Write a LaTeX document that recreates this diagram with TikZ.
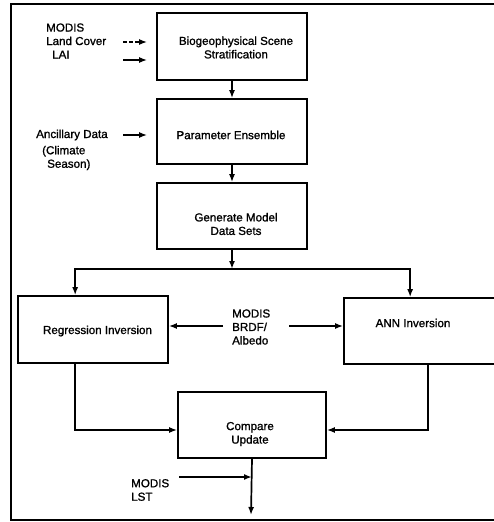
\documentclass[tikz,border=0pt]{standalone}
\usepackage{fontspec}
\setmainfont{Liberation Sans}[FakeBold=1.2]
\usetikzlibrary{arrows.meta}
\begin{document}
\begin{tikzpicture}[x=1pt,y=-1pt,
  font=\fontsize{11.6pt}{13.5pt}\selectfont,
  box/.style={draw,line width=1.7pt,inner sep=0pt,minimum width=150pt,minimum height=66pt},
  lbl/.style={inner sep=0pt,align=center},
  arr/.style={line width=1.7pt,-{Latex[length=8pt,width=6pt]}},
  ln/.style={line width=1.7pt}]
\clip (0,0) rectangle (494,522);
\useasboundingbox (0,0) rectangle (494,522);
% frame (open at right)
\draw[ln] (500,4) -- (11,4) -- (11,520) -- (500,520);
% boxes
\node[box,minimum height=67pt] (bio) at (232,46.5) {};
\node[lbl] (biot) at (236,47.5) {Biogeophysical Scene\\Stratification};
\node[box,minimum height=65pt] (par) at (232,131.5) {};
\node[lbl] (part) at (231,135) {Parameter Ensemble};
\node[box] (gen) at (232,216) {};
\node[lbl] (gent) at (236,224) {Generate Model\\Data Sets};
\node[box,minimum height=67pt] (reg) at (93,329.5) {};
\node[lbl] (regt) at (97.5,331) {Regression Inversion};
\node[box,minimum width=160pt] (ann) at (424,331) {};
\node[lbl] (annt) at (413,323) {ANN Inversion};
\node[box,minimum width=148pt] (cmp) at (252,425) {};
\node[lbl] (cmpt) at (250,434) {Compare\\Update};
% input labels
\node[lbl,anchor=west,align=left] (modis) at (46,41) {MODIS\\Land Cover\\\hspace*{6pt}LAI};
\node[lbl,anchor=west] (anc) at (36,135) {Ancillary Data};
\node[lbl,anchor=west,align=left] (clim) at (42,158) {(Climate\\\hspace*{5pt}Season)};
\node[lbl,anchor=west,align=left] (brdf) at (232,327) {MODIS\\BRDF/\\Albedo};
\node[lbl,anchor=west,align=left] (lstt) at (131,490) {MODIS\\LST};
% coordinates
\coordinate (s1) at (123,42);
\coordinate (s2) at (123,60);
\coordinate (s3) at (123,135);
\coordinate (j) at (232,269);
\coordinate (b1) at (223,326);
\coordinate (b2) at (289,326);
\coordinate (lst) at (179,477);
\coordinate (out) at (251,515);
% connectors
\draw[arr,dash pattern=on 4pt off 2pt,shorten >=9pt] (s1) -- (s1 -| bio.west);
\draw[arr,shorten >=9pt] (s2) -- (s2 -| bio.west);
\draw[arr,shorten >=9pt] (s3) -- (s3 -| par.west);
\draw[arr] (bio.south) -- (par.north);
\draw[arr] (par.south) -- (gen.north);
\draw[arr] (gen.south) -- (j);
\draw[arr] (j) -| ([xshift=58pt]reg.north west);
\draw[arr] (j) -| ([xshift=67pt]ann.north west);
\draw[arr] (b1) -- (b1 -| reg.east);
\draw[arr] (b2) -- (b2 -| ann.west);
\draw[arr] ([xshift=58pt]reg.south west) |- ([yshift=-5pt]cmp.west);
\draw[arr] ([xshift=85pt]ann.south west) |- ([yshift=-5pt]cmp.east);
\draw[arr] (cmp.south) -- (out);
\draw[arr] (lst) -- (lst -| cmp.south);
\end{tikzpicture}
\end{document}
